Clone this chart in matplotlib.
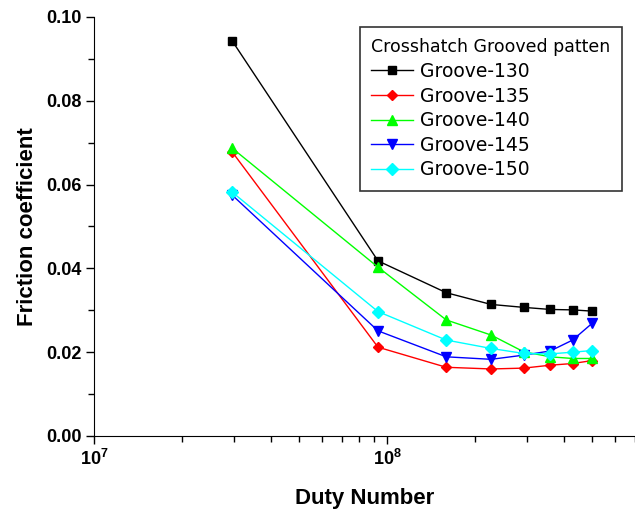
import matplotlib
matplotlib.use("Agg")
import matplotlib.pyplot as plt
from matplotlib.ticker import FixedLocator, LogLocator, NullFormatter, MultipleLocator, FormatStrFormatter
from matplotlib import font_manager

names = {f.name for f in font_manager.fontManager.ttflist}
narrow = 'Liberation Sans Narrow' if 'Liberation Sans Narrow' in names else 'Liberation Sans'

plt.rcParams['mathtext.fontset'] = 'custom'
plt.rcParams['mathtext.rm'] = f'{narrow}:bold'
plt.rcParams['mathtext.bf'] = f'{narrow}:bold'
plt.rcParams['mathtext.default'] = 'bf'

duty = [2.96e7, 9.3e7, 1.59e8, 2.26e8, 2.92e8, 3.6e8, 4.29e8, 5.0e8]
groove_130 = [0.0943, 0.0418, 0.0342, 0.0314, 0.0307, 0.0302, 0.0301, 0.0298]
groove_135 = [0.0678, 0.0212, 0.0164, 0.0160, 0.0162, 0.0169, 0.0173, 0.0180]
groove_140 = [0.0687, 0.0403, 0.0277, 0.0241, 0.0201, 0.0189, 0.0185, 0.0185]
groove_145 = [0.0575, 0.0251, 0.0189, 0.0183, 0.0193, 0.0203, 0.0229, 0.0269]
groove_150 = [0.0582, 0.0297, 0.0229, 0.0209, 0.0197, 0.0196, 0.0200, 0.0204]
series_names = ['Groove-130', 'Groove-135', 'Groove-140', 'Groove-145', 'Groove-150']
legend_title = 'Crosshatch Grooved patten'

fig = plt.figure(figsize=(6.35, 5.18), dpi=100)
ax = fig.add_axes([94/635, 1-436/518, 1-94/635, (436-17)/518])

styles = [
    ('black', 's', 5.5),
    ('#ff0000', 'D', 5),
    ('#00ff00', '^', 7.5),
    ('#0000ff', 'v', 7.5),
    ('#00ffff', 'D', 6.5),
]
data = [groove_130, groove_135, groove_140, groove_145, groove_150]
for vals, name, (c, m, ms) in zip(data, series_names, styles):
    ax.plot(duty, vals, color=c, marker=m, markersize=ms, lw=1.0,
            markeredgecolor=c, markerfacecolor=c, label=name)

ax.set_xscale('log')
ax.set_xlim(1e7, 7e8)
ax.set_ylim(0, 0.1)

ax.xaxis.set_major_locator(FixedLocator([1e7, 1e8]))
ax.set_xticks([1e7, 1e8])
ax.set_xticklabels([r'$\mathbf{10^{7}}$', r'$\mathbf{10^{8}}$'])
ax.xaxis.set_minor_locator(LogLocator(base=10, subs=range(2, 10)))
ax.xaxis.set_minor_formatter(NullFormatter())

ax.yaxis.set_major_locator(MultipleLocator(0.02))
ax.yaxis.set_minor_locator(MultipleLocator(0.01))
ax.yaxis.set_major_formatter(FormatStrFormatter('%.2f'))

for lab in ax.get_yticklabels():
    lab.set_fontfamily(narrow)
    lab.set_fontweight('bold')
    lab.set_fontsize(13)
for lab in ax.get_xticklabels():
    lab.set_fontsize(13)

ax.tick_params(axis='both', which='major', direction='out', length=6, width=1, pad=3)
ax.tick_params(axis='both', which='minor', direction='out', length=4, width=1)

ax.spines['top'].set_visible(False)
ax.spines['right'].set_visible(False)

ax.set_ylabel('Friction coefficient', fontsize=16, fontweight='bold',
              family='Liberation Sans', labelpad=6)
ax.set_xlabel('Duty Number', fontsize=16, fontweight='bold',
              family='Liberation Sans', labelpad=14)

leg = ax.legend(title=legend_title, loc='upper left',
                bbox_to_anchor=(360/635, 1-27/518), bbox_transform=fig.transFigure,
                borderaxespad=0,
                frameon=True, fancybox=False, edgecolor='black',
                prop={'family': 'DejaVu Sans', 'size': 13.5},
                title_fontproperties={'family': 'DejaVu Sans', 'size': 12.5},
                handlelength=2.2, handletextpad=0.4, labelspacing=0.3,
                borderpad=0.6, alignment='left')
leg.get_frame().set_linewidth(1.2)

fig.savefig('out.png', dpi=100)
